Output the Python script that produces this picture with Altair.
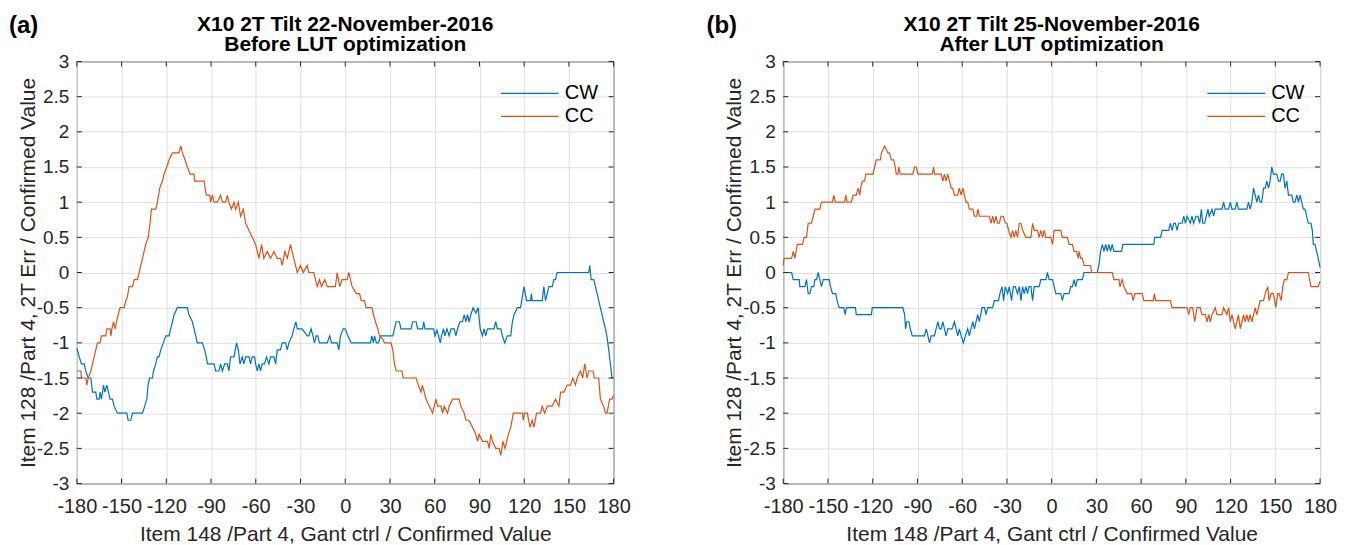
import altair as alt
import pandas as pd

FONT = "Liberation Sans"
SERIES = ["CW", "CC"]
COLORS = ["#0072BD", "#D95319"]
X_TICKS = [-180, -150, -120, -90, -60, -30, 0, 30, 60, 90, 120, 150, 180]
Y_TICKS = [-3, -2.5, -2, -1.5, -1, -0.5, 0, 0.5, 1, 1.5, 2, 2.5, 3]

TITLE_A = ["X10 2T Tilt 22-November-2016", "Before LUT optimization"]
TITLE_B = ["X10 2T Tilt 25-November-2016", "After LUT optimization"]
X_TITLE = "Item 148 /Part 4, Gant ctrl / Confirmed Value"
Y_TITLE = "Item 128 /Part 4, 2T Err / Confirmed Value"

# ---------------- Panel (a): before LUT optimization ----------------
A_CW_X = [-180.0, -178.4, -176.9, -175.1, -174.0, -172.4, -170.6, -169.5, -167.3, -166.6, -165.0, -164.4,
          -163.5, -162.1, -161.2, -159.9, -158.8, -157.7, -156.1, -155.0, -152.8, -146.5, -145.6, -143.8,
          -142.7, -136.0, -134.5, -133.1, -132.2, -131.3, -129.3, -128.6, -127.1, -126.0, -124.9, -123.7,
          -122.0, -120.4, -118.2, -117.1, -115.9, -114.8, -112.6, -105.9, -104.8, -102.5, -101.4, -100.3,
          -99.2, -95.8, -94.3, -93.2, -92.4, -88.0, -86.9, -84.7, -83.6, -82.4, -80.9, -79.1, -78.0, -76.9,
          -74.6, -72.9, -71.7, -70.6, -69.1, -68.0, -66.8, -64.6, -63.5, -62.4, -60.8, -60.1, -59.0, -57.9,
          -56.8, -55.7, -54.1, -52.8, -51.2, -50.1, -47.8, -46.7, -45.6, -43.4, -42.3, -40.0, -38.9, -37.8,
          -35.6, -34.5, -33.1, -32.2, -28.9, -25.5, -24.4, -22.9, -21.7, -20.6, -19.5, -18.4, -17.3, -12.1,
          -10.4, -9.2, -5.4, -4.3, -3.2, -1.4, 0.1, 1.7, 4.0, 16.9, 17.8, 18.9, 19.6, 20.9, 22.3, 23.6,
          31.9, 34.1, 36.3, 37.4, 44.1, 45.2, 47.5, 48.6, 51.9, 52.6, 53.5, 59.3, 60.2, 61.5, 62.6, 63.7,
          64.6, 65.9, 66.8, 68.2, 69.7, 70.9, 73.1, 74.2, 75.3, 76.9, 78.6, 79.8, 80.9, 82.0, 83.1, 84.2,
          85.8, 87.6, 89.1, 90.5, 92.0, 93.1, 94.2, 95.4, 99.8, 100.9, 102.0, 104.3, 105.4, 106.9, 108.7,
          111.0, 112.1, 113.2, 115.4, 117.6, 119.9, 121.6, 124.3, 124.8, 125.4, 132.1, 133.2, 134.3, 135.5,
          136.6, 138.8, 139.9, 141.0, 142.1, 163.3, 164.0, 164.9, 166.7, 167.8, 168.9, 170.0, 171.1, 172.2,
          173.3, 174.5, 175.6, 176.7, 177.8, 178.9, 180.0]
A_CW_Y = [-1.08, -1.2, -1.3, -1.3, -1.4, -1.5, -1.5, -1.7, -1.7, -1.8, -1.8, -1.7,
          -1.8, -1.6, -1.7, -1.6, -1.7, -1.8, -1.8, -1.9, -2.0, -2.0, -2.1, -2.1,
          -2.0, -2.0, -1.9, -1.8, -1.6, -1.5, -1.5, -1.4, -1.3, -1.2, -1.2, -1.1,
          -1.0, -0.9, -0.9, -0.8, -0.7, -0.6, -0.5, -0.5, -0.6, -0.7, -0.8, -0.9,
          -1.0, -1.0, -1.1, -1.2, -1.3, -1.3, -1.4, -1.4, -1.3, -1.4, -1.3, -1.3, -1.4, -1.2,
          -1.2, -1.0, -1.1, -1.3, -1.2, -1.3, -1.2, -1.2, -1.3, -1.2, -1.2, -1.3, -1.4, -1.3,
          -1.4, -1.3, -1.3, -1.2, -1.3, -1.2, -1.2, -1.3, -1.1, -1.1, -1.0, -1.0, -1.1, -1.0,
          -0.9, -0.8, -0.7, -0.8, -0.8, -0.9, -0.9, -0.8, -0.9, -1.0, -0.9, -0.9, -1.0, -1.0,
          -0.9, -1.0, -1.0, -1.1, -0.9, -0.8, -0.8, -0.9, -1.0, -1.0, -0.9, -1.0, -0.9, -1.0, -1.0, -0.9,
          -0.9, -0.7, -0.7, -0.8, -0.8, -0.7, -0.7, -0.8, -0.8, -0.7, -0.8, -0.8, -0.9, -0.82, -0.9, -1.0,
          -0.9, -0.8, -0.9, -0.8, -0.9, -0.8, -0.8, -0.9, -0.8, -0.7, -0.7, -0.6, -0.7, -0.6, -0.7, -0.6,
          -0.5, -0.58, -0.5, -0.8, -0.9, -0.8, -0.9, -0.8, -0.8, -0.7, -0.8, -0.8, -0.9, -1.0, -0.9,
          -0.9, -0.7, -0.6, -0.5, -0.5, -0.2, -0.4, -0.4, -0.3, -0.4, -0.4, -0.2, -0.4, -0.3,
          -0.2, -0.2, -0.1, -0.1, 0.0, 0.0, 0.1, -0.1, -0.1, -0.2, -0.3, -0.4, -0.5, -0.6,
          -0.7, -0.8, -0.92, -1.1, -1.3, -1.5, -1.5]

A_CC_X = [-180.0, -177.3, -176.9, -174.0, -173.3, -172.4, -170.6, -169.5, -168.4, -167.3, -166.2, -164.4,
          -163.5, -160.6, -159.9, -157.7, -157.2, -156.5, -155.4, -154.3, -153.4, -152.3, -151.0, -148.3,
          -147.2, -146.1, -145.0, -142.7, -141.6, -139.4, -138.2, -136.0, -133.8, -132.2, -130.9, -130.0,
          -127.1, -126.0, -124.4, -122.6, -121.5, -119.7, -118.2, -115.9, -111.5, -110.3, -109.2, -107.4,
          -105.9, -104.1, -101.4, -101.0, -94.7, -93.2, -90.9, -90.3, -89.1, -88.0, -85.8, -83.6, -82.4,
          -80.2, -79.1, -78.0, -76.4, -74.6, -73.5, -71.7, -70.2, -68.4, -66.8, -64.6, -62.4, -60.1, -57.9,
          -56.1, -54.6, -52.3, -50.1, -47.8, -45.6, -43.4, -42.3, -40.5, -38.9, -36.7, -34.5, -32.2, -30.0,
          -28.2, -25.5, -24.4, -21.1, -18.8, -17.3, -15.9, -13.7, -12.1, -6.6, -5.4, -3.7, -2.1, 1.3, 2.4,
          4.6, 7.4, 9.6, 10.7, 12.9, 14.0, 18.0, 18.9, 20.3, 21.8, 22.9, 25.2, 26.3, 30.7, 31.9, 33.0, 34.1,
          38.1, 38.8, 47.5, 49.0, 50.8, 51.7, 53.0, 54.1, 56.4, 58.6, 60.8, 61.9, 64.2, 65.3, 66.4, 68.6,
          69.7, 72.0, 76.4, 77.5, 79.8, 80.9, 83.1, 85.3, 87.6, 88.7, 89.8, 92.0, 95.4, 96.5, 97.6, 98.7,
          100.9, 103.2, 104.3, 105.8, 107.2, 108.3, 109.4, 111.0, 112.7, 118.8, 119.4, 120.3, 122.1, 123.9,
          125.4, 126.6, 128.3, 131.0, 132.1, 133.7, 135.5, 138.8, 141.0, 143.3, 144.4, 146.6, 148.8, 151.1,
          152.6, 154.4, 155.5, 157.7, 159.3, 160.6, 162.2, 163.3, 166.2, 167.1, 170.0, 171.1, 173.3, 174.5,
          175.6, 177.3, 178.9, 180.0]
A_CC_Y = [-1.4, -1.4, -1.5, -1.5, -1.6, -1.5, -1.4, -1.3, -1.2, -1.1, -1.0, -1.0,
          -0.9, -0.9, -0.8, -0.8, -0.9, -0.8, -0.7, -0.8, -0.7, -0.6, -0.5, -0.5,
          -0.4, -0.35, -0.2, -0.2, -0.1, -0.1, 0.0, 0.2, 0.4, 0.5, 0.7, 0.9,
          0.9, 1.0, 1.2, 1.3, 1.4, 1.5, 1.6, 1.7, 1.7, 1.8, 1.7, 1.6,
          1.5, 1.4, 1.4, 1.3, 1.3, 1.1, 1.1, 1.0, 1.1, 1.0, 1.0, 1.1, 1.0,
          1.0, 1.1, 1.0, 0.9, 1.0, 0.9, 1.0, 0.8, 0.9, 0.7, 0.6, 0.5, 0.4, 0.2,
          0.4, 0.2, 0.3, 0.2, 0.3, 0.2, 0.2, 0.1, 0.3, 0.2, 0.4, 0.2, 0.0, 0.1,
          0.0, 0.1, 0.0, 0.0, -0.2, -0.1, -0.2, -0.1, -0.2, -0.2, 0.0, -0.2, -0.1, -0.1, 0.0,
          -0.2, -0.3, -0.3, -0.4, -0.4, -0.5, -0.5, -0.6, -0.7, -0.8, -0.9, -0.95, -1.0, -1.0, -1.1, -1.3, -1.4,
          -1.4, -1.5, -1.5, -1.6, -1.7, -1.6, -1.7, -1.8, -1.9, -2.0, -1.8, -1.9, -1.9, -2.0, -1.9, -2.0,
          -1.9, -1.8, -1.8, -1.9, -2.0, -2.1, -2.1, -2.2, -2.3, -2.4, -2.3, -2.4, -2.4, -2.5, -2.3, -2.4,
          -2.5, -2.5, -2.6, -2.4, -2.5, -2.4, -2.3, -2.2, -2.0, -2.0, -2.1, -2.0, -2.0, -2.2,
          -2.1, -2.2, -2.0, -2.0, -1.9, -2.0, -1.9, -1.9, -1.8, -1.9, -1.7, -1.7, -1.6, -1.6,
          -1.5, -1.6, -1.5, -1.4, -1.5, -1.3, -1.5, -1.4, -1.4, -1.5, -1.5, -1.8, -1.9, -2.0,
          -2.0, -1.8, -1.8, -1.75]

# ---------------- Panel (b): after LUT optimization ----------------
B_CW_X = [-180.0, -174.4, -173.3, -169.3, -168.9, -165.5, -164.4, -163.3, -162.2, -161.1, -159.5, -158.8,
          -157.7, -156.6, -155.5, -154.4, -153.2, -149.2, -148.3, -147.0, -144.8, -143.9, -142.5, -139.4,
          -138.5, -137.6, -131.6, -131.0, -120.9, -120.3, -99.8, -98.6, -98.0, -97.1, -95.7, -94.8, -93.5,
          -85.3, -84.1, -83.0, -81.9, -80.8, -78.6, -77.5, -76.3, -75.2, -74.1, -73.0, -71.9, -70.8, -69.7,
          -66.8, -65.2, -64.1, -63.0, -61.9, -60.7, -59.2, -57.9, -56.3, -55.2, -54.1, -52.9, -51.8, -50.7,
          -49.6, -48.5, -46.7, -45.1, -44.0, -42.9, -39.6, -38.5, -35.6, -34.7, -33.3, -32.2, -31.1, -29.5,
          -28.4, -26.9, -25.7, -24.4, -22.9, -21.7, -20.6, -19.5, -18.4, -17.3, -16.2, -15.1, -13.9, -12.8,
          -11.7, -8.4, -7.3, -5.0, -3.9, -2.8, -1.7, 0.6, 1.7, 2.8, 6.1, 7.2, 8.3, 11.7, 12.8, 13.9, 15.0,
          16.1, 17.2, 20.6, 21.7, 30.6, 31.7, 32.8, 34.0, 35.1, 36.2, 37.3, 38.4, 39.5, 40.6, 41.8, 46.9,
          47.8, 68.5, 69.2, 73.0, 74.1, 78.5, 79.6, 80.8, 81.9, 83.0, 84.1, 85.2, 87.4, 88.6, 89.7, 90.8,
          93.0, 94.1, 95.2, 96.8, 98.1, 99.3, 100.4, 101.3, 102.6, 103.7, 104.8, 105.7, 107.5, 108.6, 109.7,
          114.2, 115.3, 116.4, 118.7, 119.8, 120.9, 123.1, 124.2, 125.3, 130.9, 132.0, 133.1, 134.3, 135.4,
          136.5, 137.6, 138.7, 139.8, 140.9, 142.1, 143.2, 144.3, 145.4, 146.5, 147.6, 148.7, 151.0, 152.1,
          153.2, 154.3, 155.4, 156.5, 157.7, 158.8, 161.0, 162.1, 163.2, 164.4, 165.5, 166.6, 167.7, 168.8,
          169.9, 171.0, 172.1, 173.9, 174.8, 175.5, 176.6, 177.7, 178.8, 180.0]
B_CW_Y = [0.0, 0.0, -0.1, -0.1, -0.2, -0.2, -0.1, -0.3, -0.3, -0.2, -0.2, -0.1,
          -0.1, 0.0, -0.1, -0.2, -0.1, -0.1, -0.2, -0.3, -0.3, -0.4, -0.5, -0.5,
          -0.6, -0.5, -0.5, -0.6, -0.6, -0.5, -0.5, -0.6, -0.8, -0.7, -0.7, -0.8, -0.9,
          -0.9, -0.8, -0.9, -1.0, -0.9, -0.9, -0.8, -0.7, -0.8, -0.8, -0.7, -0.8, -0.9, -0.8,
          -0.8, -0.7, -0.8, -0.9, -0.8, -0.9, -1.0, -0.9, -0.8, -0.9, -0.8, -0.7, -0.8, -0.7,
          -0.6, -0.7, -0.5, -0.5, -0.6, -0.5, -0.5, -0.4, -0.4, -0.3, -0.2, -0.4, -0.2, -0.3,
          -0.2, -0.4, -0.2, -0.2, -0.3, -0.2, -0.4, -0.2, -0.3, -0.2, -0.3, -0.2, -0.2, -0.4,
          -0.2, -0.2, -0.1, -0.1, -0.1, 0.0, -0.1, -0.1, -0.2, -0.3, -0.3, -0.4, -0.3, -0.3, -0.2, -0.2, -0.1,
          -0.2, -0.1, -0.1, 0.0, 0.0, 0.1, 0.3, 0.4, 0.3, 0.4, 0.3, 0.4, 0.3, 0.4, 0.3, 0.3,
          0.4, 0.4, 0.5, 0.5, 0.6, 0.6, 0.7, 0.6, 0.7, 0.7, 0.6, 0.7, 0.7, 0.8, 0.7, 0.8,
          0.7, 0.8, 0.7, 0.8, 0.8, 0.7, 0.9, 0.7, 0.7, 0.8, 0.9, 0.8, 0.9, 0.8, 0.9,
          0.9, 1.0, 0.9, 0.9, 1.0, 0.9, 0.9, 1.0, 0.9, 0.9, 1.0, 0.9, 1.0, 1.2,
          1.1, 1.0, 1.1, 1.0, 1.0, 1.2, 1.2, 1.3, 1.2, 1.3, 1.5, 1.4, 1.4, 1.3,
          1.3, 1.4, 1.4, 1.2, 1.3, 1.1, 1.1, 1.0, 1.0, 1.1, 1.0, 1.1, 1.0, 0.9,
          0.9, 0.8, 0.7, 0.7, 0.6, 0.4, 0.4, 0.3, 0.2, 0.07]

B_CC_X = [-180.0, -179.5, -174.4, -173.3, -172.2, -170.6, -167.1, -166.0, -164.4, -163.3, -161.1, -159.9,
          -158.8, -155.5, -154.4, -147.0, -146.1, -145.2, -138.8, -138.1, -137.2, -134.3, -133.2, -131.0,
          -129.8, -128.7, -128.1, -127.0, -125.4, -124.7, -119.8, -118.7, -117.6, -114.9, -114.2, -112.0,
          -109.8, -108.7, -107.6, -106.0, -104.9, -104.2, -103.1, -102.4, -101.5, -93.1, -92.0, -90.8, -89.7,
          -80.1, -79.2, -78.6, -74.1, -73.0, -71.9, -70.8, -69.7, -68.5, -67.4, -66.3, -65.2, -63.0, -61.9,
          -60.7, -59.6, -58.5, -57.4, -56.3, -55.2, -52.9, -51.8, -50.3, -49.4, -48.5, -41.8, -40.7, -39.6,
          -38.5, -37.3, -36.2, -35.1, -34.0, -32.4, -31.1, -30.0, -28.9, -27.3, -26.2, -25.1, -24.0, -22.9,
          -21.7, -20.6, -19.5, -17.3, -13.9, -12.8, -11.7, -9.5, -8.4, -7.3, -6.1, -5.0, -3.9, -0.6, 0.6,
          1.7, 6.1, 7.2, 10.5, 11.7, 13.9, 15.0, 16.6, 17.9, 18.3, 19.5, 20.6, 21.7, 26.1, 26.8, 40.6, 41.8,
          45.1, 45.8, 47.3, 48.4, 50.7, 53.6, 54.7, 55.8, 60.7, 61.8, 68.1, 69.0, 69.6, 79.6, 80.8, 90.8,
          91.9, 93.0, 94.6, 95.9, 97.5, 99.7, 100.8, 103.1, 104.2, 105.3, 106.4, 107.5, 109.7, 110.9, 114.2,
          115.3, 117.5, 118.7, 119.8, 120.9, 122.0, 123.1, 124.2, 125.3, 126.5, 127.6, 128.7, 129.8, 130.9,
          132.0, 133.1, 134.3, 135.4, 136.5, 137.6, 138.7, 139.8, 142.1, 143.2, 144.9, 145.8, 147.2, 148.7,
          150.3, 151.6, 152.5, 153.9, 155.0, 156.1, 157.7, 158.8, 172.1, 173.9, 178.8, 180.0]
B_CC_Y = [0.1, 0.2, 0.2, 0.3, 0.2, 0.4, 0.4, 0.5, 0.5, 0.7, 0.7, 0.8,
          0.9, 0.9, 1.0, 1.0, 1.1, 1.0, 1.0, 1.1, 1.0, 1.0, 1.1, 1.1,
          1.2, 1.1, 1.2, 1.3, 1.3, 1.4, 1.4, 1.5, 1.6, 1.6, 1.7, 1.8,
          1.7, 1.7, 1.6, 1.6, 1.5, 1.4, 1.4, 1.5, 1.4, 1.4, 1.5, 1.5, 1.4,
          1.4, 1.5, 1.4, 1.4, 1.3, 1.4, 1.3, 1.4, 1.3, 1.2, 1.2, 1.1, 1.1, 1.2,
          1.1, 1.2, 1.1, 1.0, 1.0, 0.9, 0.9, 0.8, 0.8, 0.9, 0.8, 0.8, 0.7, 0.8,
          0.7, 0.8, 0.7, 0.7, 0.8, 0.8, 0.7, 0.7, 0.6, 0.5, 0.6, 0.5, 0.6, 0.5,
          0.7, 0.7, 0.6, 0.5, 0.5, 0.7, 0.6, 0.6, 0.5, 0.6, 0.5, 0.6, 0.5, 0.5, 0.4,
          0.6, 0.6, 0.5, 0.5, 0.4, 0.4, 0.3, 0.3, 0.2, 0.3, 0.2, 0.2, 0.1, 0.1, 0.0, 0.0, -0.1,
          -0.1, -0.2, -0.1, -0.2, -0.3, -0.3, -0.4, -0.3, -0.3, -0.4, -0.4, -0.3, -0.4, -0.4, -0.5, -0.5,
          -0.6, -0.5, -0.5, -0.7, -0.5, -0.5, -0.6, -0.6, -0.7, -0.6, -0.7, -0.6, -0.5, -0.6, -0.6,
          -0.5, -0.6, -0.5, -0.7, -0.6, -0.7, -0.8, -0.7, -0.6, -0.8, -0.7, -0.6, -0.7, -0.6,
          -0.7, -0.6, -0.7, -0.6, -0.5, -0.6, -0.5, -0.4, -0.4, -0.3, -0.2, -0.4, -0.3, -0.3,
          -0.5, -0.3, -0.3, -0.4, -0.2, -0.1, -0.1, 0.0, 0.0, -0.2, -0.2, -0.12]

W, H = 538, 423
INK = "#262626"
GRID = "#dfdfdf"


def panel(cw_x, cw_y, cc_x, cc_y, title_lines, tag, tag_dx):
    cw = pd.DataFrame({"x": cw_x, "y": cw_y, "s": "CW", "o": list(range(len(cw_x)))})
    cc = pd.DataFrame({"x": cc_x, "y": cc_y, "s": "CC", "o": list(range(len(cc_x)))})
    xt = pd.DataFrame({"x": X_TICKS})
    yt = pd.DataFrame({"y": Y_TICKS})
    xs = alt.Scale(domain=[-180, 180], nice=False, zero=False)
    ys = alt.Scale(domain=[-3, 3], nice=False, zero=False)
    color = alt.Color(
        "s:N",
        scale=alt.Scale(domain=SERIES, range=COLORS),
        legend=alt.Legend(
            orient="none", legendX=444, legendY=22, title=None,
            symbolType="M-4,0H4", symbolSize=210, symbolStrokeWidth=1.2,
            labelFont=FONT, labelFontSize=20, labelColor="black",
            labelOffset=25, rowPadding=3, padding=0,
        ),
    )
    xaxis = alt.Axis(
        values=X_TICKS, title=X_TITLE, ticks=False, domain=False, grid=True,
        gridColor=GRID, gridWidth=1, labelFont=FONT, labelFontSize=20, labelColor=INK,
        labelPadding=13, labelFlush=False, labelOverlap=False,
        labelExpr="'' + datum.value", titleFont=FONT, titleFontSize=21,
        titleFontWeight="normal", titleColor=INK, titlePadding=7,
    )
    yaxis = alt.Axis(
        values=Y_TICKS, title=Y_TITLE, ticks=False, domain=False, grid=True,
        gridColor=GRID, gridWidth=1, labelFont=FONT, labelFontSize=19, labelColor=INK,
        labelPadding=8, labelFlush=False, labelOverlap=False,
        labelExpr="'' + datum.value", titleFont=FONT, titleFontSize=21,
        titleFontWeight="normal", titleColor=INK, titlePadding=2,
        titleBaseline="alphabetic",
    )
    X = alt.X("x:Q", scale=xs, axis=xaxis)
    Y = alt.Y("y:Q", scale=ys, axis=yaxis)
    line_cw = alt.Chart(cw).mark_line(strokeWidth=1.2).encode(
        x=X, y=Y, color=color, order="o:Q")
    line_cc = alt.Chart(cc).mark_line(strokeWidth=1.2).encode(
        x=X, y=Y, color=color, order="o:Q")
    tick_b = alt.Chart(xt).mark_rule(color=INK, strokeWidth=1).encode(
        x=X, y=alt.value(H), y2=alt.value(H - 5))
    tick_t = alt.Chart(xt).mark_rule(color=INK, strokeWidth=1).encode(
        x=X, y=alt.value(0), y2=alt.value(5))
    tick_l = alt.Chart(yt).mark_rule(color=INK, strokeWidth=1).encode(
        y=Y, x=alt.value(0), x2=alt.value(5))
    tick_r = alt.Chart(yt).mark_rule(color=INK, strokeWidth=1).encode(
        y=Y, x=alt.value(W), x2=alt.value(W - 5))
    tag_mark = alt.Chart(pd.DataFrame({"t": [tag]})).mark_text(
        align="left", baseline="alphabetic", font=FONT, fontSize=24,
        fontWeight="bold", color="black",
    ).encode(text="t:N", x=alt.value(tag_dx), y=alt.value(-28.5))
    head1 = alt.Chart(pd.DataFrame({"t": [title_lines[0]]})).mark_text(
        align="center", baseline="alphabetic", font=FONT, fontSize=21,
        fontWeight="bold", color="black",
    ).encode(text="t:N", x=alt.value(W / 2), y=alt.value(-31))
    head2 = alt.Chart(pd.DataFrame({"t": [title_lines[1]]})).mark_text(
        align="center", baseline="alphabetic", font=FONT, fontSize=21,
        fontWeight="bold", color="black",
    ).encode(text="t:N", x=alt.value(W / 2), y=alt.value(-10.5))
    return alt.layer(
        line_cw, line_cc, tick_b, tick_t, tick_l, tick_r, tag_mark, head1, head2
    ).properties(width=W, height=H)


pa = panel(A_CW_X, A_CW_Y, A_CC_X, A_CC_Y, TITLE_A, "(a)", -68)
pb = panel(B_CW_X, B_CW_Y, B_CC_X, B_CC_Y, TITLE_B, "(b)", -77)

chart = alt.hconcat(pa, pb, spacing=170, bounds="flush").resolve_scale(
    color="independent"
).resolve_legend(color="independent").configure_view(
    stroke=INK, strokeWidth=1
).properties(
    padding={"left": 0, "top": 4, "right": 5, "bottom": 0},
    background="white",
)

chart.save("out.html", embed_options={"renderer": "svg", "actions": False})
